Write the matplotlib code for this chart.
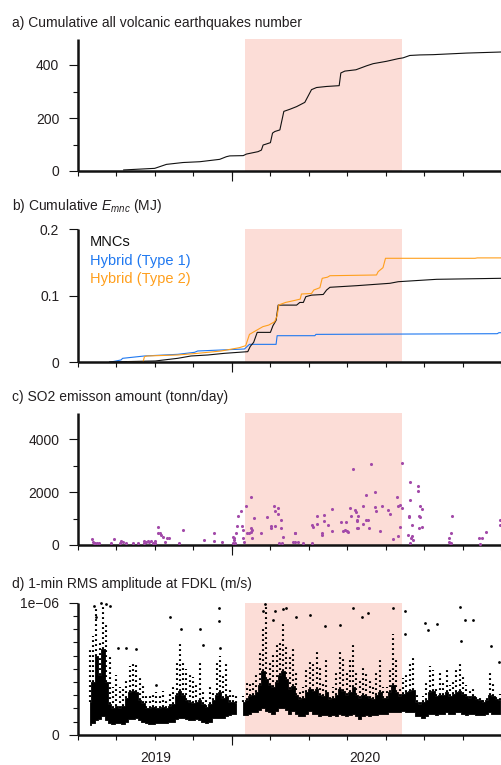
import numpy as np
import matplotlib
matplotlib.use("Agg")
import matplotlib.pyplot as plt

plt.rcParams['font.family'] = ['Liberation Sans', 'DejaVu Sans']
plt.rcParams['mathtext.fontset'] = 'custom'
plt.rcParams['mathtext.it'] = 'Liberation Sans:italic'
plt.rcParams['mathtext.rm'] = 'Liberation Sans'

# ---------------- data (time in decimal years) ----------------
x_start, x_end = 2018.630, 2020.648
long_tick = 2019.365
shade_start, shade_end = 2019.426, 2020.174
year_ticks = [2019.0, 2020.0]
year_labels = ["2019", "2020"]

titles = ["a) Cumulative all volcanic earthquakes number",
          "b) Cumulative $E_{mnc}$ (MJ)",
          "c) SO2 emisson amount (tonn/day)",
          "d) 1-min RMS amplitude at FDKL (m/s)"]

# a) cumulative earthquake number
eq_year = [2018.848, 2018.996, 2019.052, 2019.131, 2019.211, 2019.306, 2019.338, 2019.354,
           2019.418, 2019.434, 2019.489, 2019.505, 2019.513, 2019.529, 2019.548, 2019.558,
           2019.569, 2019.593, 2019.612, 2019.641, 2019.673, 2019.712, 2019.744, 2019.768,
           2019.816, 2019.876, 2019.884, 2019.903, 2019.956, 2020.007, 2020.038, 2020.102,
           2020.158, 2020.181, 2020.213, 2020.261, 2020.324, 2020.484, 2020.648]
eq_count = [4, 10, 25, 32, 35, 44, 54, 57,
            58, 64, 73, 79, 98, 102, 107, 143,
            149, 155, 225, 233, 243, 259, 307, 315,
            319, 322, 370, 377, 382, 397, 405, 414,
            424, 427, 436, 438, 439, 445, 449]

# b) cumulative energy (MJ)
mnc_year = [2018.781, 2018.999, 2019.106, 2019.169, 2019.250, 2019.329, 2019.440, 2019.452,
            2019.468, 2019.485, 2019.548, 2019.560, 2019.575, 2019.585, 2019.673, 2019.688,
            2019.705, 2019.717, 2019.744, 2019.800, 2019.816, 2019.832, 2019.959, 2020.118,
            2020.158, 2020.341, 2020.648]
mnc_e = [0.0005, 0.002, 0.006, 0.0095, 0.011, 0.0135, 0.016, 0.024,
         0.030, 0.045, 0.045, 0.055, 0.063, 0.086, 0.086, 0.090,
         0.090, 0.0987, 0.101, 0.102, 0.1087, 0.1128, 0.1152, 0.1188,
         0.1212, 0.1248, 0.1263]
t1_year = [2018.780, 2018.835, 2018.843, 2018.947, 2019.106, 2019.186, 2019.201, 2019.313,
           2019.424, 2019.448, 2019.575, 2019.580, 2019.760, 2019.765, 2020.630, 2020.638,
           2020.648]
t1_e = [0.0, 0.0035, 0.006, 0.0095, 0.012, 0.015, 0.017, 0.0185,
        0.020, 0.027, 0.027, 0.040, 0.040, 0.042, 0.043, 0.0445,
        0.0445]
t2_year = [2018.867, 2018.940, 2018.947, 2018.960, 2019.106, 2019.201, 2019.313, 2019.400,
           2019.430, 2019.448, 2019.470, 2019.512, 2019.540, 2019.568, 2019.580, 2019.588,
           2019.620, 2019.663, 2019.690, 2019.696, 2019.744, 2019.755, 2019.784, 2019.795,
           2019.820, 2019.832, 2020.054, 2020.062, 2020.085, 2020.097, 2020.524, 2020.535,
           2020.648]
t2_e = [0.0, 0.0, 0.0085, 0.0095, 0.011, 0.0135, 0.017, 0.022,
        0.025, 0.042, 0.046, 0.0536, 0.056, 0.061, 0.070, 0.0862,
        0.090, 0.093, 0.095, 0.1027, 0.1035, 0.1087, 0.1122, 0.1263,
        0.128, 0.1302, 0.1313, 0.1363, 0.1423, 0.1564, 0.1564, 0.157,
        0.157]
series_names = ["MNCs", "Hybrid (Type 1)", "Hybrid (Type 2)"]

# c) SO2 emission (ton/day)
so2_year = [2018.696, 2018.700, 2018.705, 2018.713, 2018.721, 2018.729, 2018.788, 2018.804,
            2018.828, 2018.836, 2018.844, 2018.859, 2018.891, 2018.915, 2018.944, 2018.947,
            2018.955, 2018.963, 2018.971, 2018.979, 2018.987, 2018.995, 2018.998, 2019.014,
            2019.011, 2019.019, 2019.027, 2019.035, 2019.046, 2019.055, 2019.066, 2019.114,
            2019.130, 2019.230, 2019.281, 2019.281, 2019.318, 2019.369, 2019.374, 2019.376,
            2019.369, 2019.378, 2019.384, 2019.389, 2019.392, 2019.408, 2019.413, 2019.416,
            2019.419, 2019.424, 2019.431, 2019.437, 2019.445, 2019.453, 2019.453, 2019.461,
            2019.461, 2019.456, 2019.472, 2019.504, 2019.533, 2019.549, 2019.552, 2019.565,
            2019.568, 2019.583, 2019.583, 2019.571, 2019.599, 2019.599, 2019.607, 2019.587,
            2019.603, 2019.663, 2019.663,
            2019.665, 2019.657, 2019.681, 2019.705, 2019.744, 2019.745, 2019.749,
            2019.768, 2019.768, 2019.792, 2019.792, 2019.805, 2019.805, 2019.824, 2019.841,
            2019.841, 2019.887, 2019.895, 2019.903, 2019.911, 2019.919, 2019.908, 2019.930,
            2019.932, 2019.943, 2019.951, 2019.954, 2019.959, 2019.963, 2019.967, 2019.966,
            2019.961, 2019.990, 2019.990, 2020.003, 2020.003, 2020.014, 2020.017, 2020.030,
            2020.047, 2020.047, 2020.051, 2020.071, 2020.078, 2020.110, 2020.118, 2020.131,
            2020.153, 2020.157, 2020.165, 2020.159, 2020.165, 2020.174, 2020.174, 2020.202,
            2020.207, 2020.211, 2020.213, 2020.213, 2020.216, 2020.221, 2020.224, 2020.227,
            2020.224, 2020.250, 2020.250, 2020.258, 2020.261, 2020.258, 2020.261, 2020.269,
            2020.269, 2020.401, 2020.401, 2020.405, 2020.408, 2020.408, 2020.414, 2020.545,
            2020.556, 2020.548, 2020.576, 2020.643, 2020.643]
so2_val = [216, 127, 60, 90, 60, 90, 63, 216,
           90, 150, 127, 63, 63, 63, 150, 90,
           127, 150, 127, 150, 90, 150, 63, 673,
           470, 444, 380, 317, 127, 254, 254, 63,
           571, 190, 444, 152, 127, 317, 254, 190,
           90, 90, 444, 724, 1105, 1270, 724, 571,
           254, 127, 1460, 444, 444, 508, 635, 571,
           254, 1816, 1016, 444, 1054, 724, 635, 1460,
           1300, 1400, 1181, 724, 927, 660, 317, 90,
           90, 444, 127,
           444, 127, 127, 63, 63, 762, 698,
           1079, 787, 470, 368, 1143, 889, 762, 1359,
           546, 876, 546, 571, 546, 495, 876, 1397,
           1105, 2883, 1333, 1232, 952, 889, 1079, 635,
           635, 1460, 775, 1892, 927, 952, 635, 3048,
           2006, 1422, 1270, 546, 1460, 1308, 1181, 216,
           1816, 1486, 1524, 343, 673, 3111, 1397, 381,
           1105, 1054, 2375, 1689, 89, 248, 343, 190,
           762, 2222, 2032, 1105, 1054, 635, 1460, 1359,
           673, 254, 127, 89, 63, 470, 1105, 254,
           280, 38, 495, 952, 762]

# d) 1-min RMS amplitude envelope per ~6-day column (units of 1e-7 m/s)
rms_year = [2018.686, 2018.702, 2018.718, 2018.734, 2018.750, 2018.765, 2018.781, 2018.797,
            2018.813, 2018.829, 2018.845, 2018.861, 2018.877, 2018.893, 2018.909, 2018.925,
            2018.940, 2018.956, 2018.972, 2018.988, 2019.004, 2019.020, 2019.036, 2019.052,
            2019.068, 2019.084, 2019.100, 2019.116, 2019.131, 2019.147, 2019.163, 2019.179,
            2019.195, 2019.211, 2019.227, 2019.243, 2019.259, 2019.275, 2019.291, 2019.306,
            2019.322, 2019.338, 2019.354, 2019.370, 2019.386,
            2019.418, 2019.434, 2019.449, 2019.465, 2019.481, 2019.497, 2019.513, 2019.529,
            2019.545, 2019.561, 2019.577, 2019.593, 2019.608, 2019.624, 2019.640, 2019.656,
            2019.672, 2019.688, 2019.704, 2019.720, 2019.736, 2019.752, 2019.768, 2019.784,
            2019.799, 2019.815, 2019.831, 2019.847, 2019.863, 2019.879, 2019.895, 2019.911,
            2019.927, 2019.943, 2019.958, 2019.974, 2019.990, 2020.006, 2020.022, 2020.038,
            2020.054, 2020.070, 2020.086, 2020.102, 2020.117, 2020.133, 2020.149, 2020.165,
            2020.181, 2020.197, 2020.213, 2020.229, 2020.245, 2020.261, 2020.276, 2020.292,
            2020.308, 2020.324, 2020.340, 2020.356, 2020.372, 2020.388, 2020.404, 2020.420,
            2020.435, 2020.451, 2020.467, 2020.483, 2020.499, 2020.515, 2020.531, 2020.547,
            2020.563, 2020.579, 2020.594, 2020.610, 2020.626, 2020.642]
rms_low = [0.7, 0.9, 1.1, 1.2, 1.4, 1.1, 0.9, 0.8,
           0.9, 0.9, 0.8, 1.0, 1.2, 1.2, 1.3, 1.1,
           1.0, 0.9, 0.8, 0.8, 0.9, 0.9, 0.9, 0.9,
           1.0, 1.0, 1.2, 1.3, 1.3, 1.2, 1.1, 1.1,
           1.2, 1.1, 1.0, 0.9, 1.0, 1.3, 1.3, 1.3,
           1.3, 1.4, 1.5, 1.6, 1.6,
           1.5, 1.5, 1.6, 1.7, 1.7, 1.9, 2.0, 1.8,
           1.7, 1.6, 1.8, 2.0, 2.0, 1.9, 1.6, 1.8,
           1.6, 1.4, 1.4, 1.6, 1.8, 1.6, 1.6, 1.4,
           1.5, 1.5, 1.4, 1.5, 1.4, 1.6, 1.5, 1.4,
           1.5, 1.6, 1.4, 1.2, 1.4, 1.5, 1.4, 1.5,
           1.5, 1.6, 1.6, 1.6, 1.7, 1.7, 1.7, 1.7,
           1.8, 1.7, 1.7, 1.7, 1.4, 1.4, 1.3, 1.4,
           1.6, 1.6, 1.5, 1.6, 1.6, 1.7, 1.6, 1.6,
           1.7, 1.7, 1.6, 1.5, 1.6, 1.6, 1.5, 1.5,
           1.5, 1.6, 1.7, 1.6, 1.6, 1.6]
rms_core = [2.5, 4.0, 6.0, 4.5, 6.5, 4.0, 2.3, 2.0,
            2.2, 2.0, 2.2, 2.8, 3.2, 3.3, 3.2, 2.6,
            2.4, 2.0, 2.0, 2.1, 2.0, 2.0, 2.1, 2.0,
            2.2, 2.3, 3.0, 3.3, 3.0, 2.6, 2.5, 2.4,
            2.5, 2.6, 2.3, 2.1, 2.3, 2.6, 3.0, 3.2,
            2.8, 2.9, 2.5, 2.5, 2.4,
            2.5, 2.6, 2.9, 3.0, 3.2, 3.8, 4.8, 4.2,
            3.8, 3.6, 4.0, 4.5, 4.8, 4.2, 3.5, 3.7,
            3.0, 2.7, 2.8, 3.2, 3.5, 3.3, 3.5, 3.0,
            2.9, 3.2, 2.7, 2.8, 3.0, 3.5, 3.3, 3.0,
            3.2, 3.6, 3.0, 2.8, 3.0, 2.9, 2.8, 2.7,
            3.0, 3.2, 2.8, 2.8, 3.2, 3.8, 3.2, 2.9,
            3.1, 3.2, 3.3, 3.4, 2.5, 2.3, 2.5, 2.6,
            3.2, 3.3, 2.9, 3.0, 3.0, 3.2, 2.9, 3.1,
            3.2, 3.3, 3.1, 2.9, 2.8, 2.9, 2.7, 2.6,
            2.5, 2.6, 3.0, 2.9, 2.7, 2.6]
rms_high = [6.4, 7.5, 9.5, 7.0, 9.9, 8.5, 6.0, 3.6,
            4.5, 3.6, 3.5, 4.2, 5.2, 5.6, 5.5, 4.3,
            3.8, 3.0, 3.0, 3.1, 3.2, 3.0, 3.3, 2.8,
            3.2, 3.6, 5.4, 6.9, 5.6, 5.0, 4.5, 4.4,
            4.0, 5.6, 3.4, 2.8, 3.6, 3.3, 5.6, 6.0,
            4.5, 5.6, 3.4, 3.1, 2.9,
            2.9, 4.0, 3.9, 4.1, 4.6, 6.2, 8.2, 9.9,
            5.5, 6.2, 7.0, 7.2, 8.4, 6.9, 5.9, 6.6,
            4.7, 3.2, 3.6, 4.9, 5.7, 5.4, 6.3, 5.1,
            3.9, 5.7, 3.1, 3.6, 4.9, 6.4, 5.7, 4.7,
            5.7, 6.9, 4.9, 4.1, 5.2, 4.6, 4.1, 3.6,
            4.9, 5.7, 3.6, 3.6, 4.9, 7.6, 5.7, 3.5,
            4.3, 4.6, 5.6, 5.9, 3.0, 2.7, 2.9, 3.9,
            5.2, 4.9, 3.6, 4.7, 3.9, 5.0, 3.8, 4.1,
            4.9, 5.6, 4.5, 3.8, 3.4, 3.7, 3.1, 2.9,
            2.7, 3.0, 4.7, 3.9, 3.1, 3.1]
spike_year = [2018.707, 2018.714, 2018.742, 2018.762, 2018.781, 2018.821, 2018.858, 2018.905,
              2019.004, 2019.068, 2019.119, 2019.211, 2019.224, 2019.303, 2019.303, 2019.306,
              2019.521, 2019.513, 2019.561, 2019.569, 2019.606, 2019.621, 2019.672, 2019.736,
              2019.808, 2019.879, 2019.943, 2019.983, 2020.014, 2020.133, 2020.190, 2020.190,
              2020.285, 2020.301, 2020.341, 2020.452, 2020.457, 2020.476, 2020.516, 2020.600,
              2020.638]
spike_val = [9.75, 8.9, 9.95, 9.9, 9.75, 6.6, 6.6, 6.5,
             3.8, 8.9, 8.0, 8.0, 6.8, 9.6, 8.6, 6.6,
             9.9, 9.4, 8.7, 9.4, 9.5, 9.6, 8.9, 9.1,
             8.2, 8.3, 9.6, 8.9, 9.2, 9.6, 9.4, 7.6,
             8.5, 7.9, 8.4, 9.7, 7.1, 8.7, 8.7, 6.7,
             5.5]
rms_unit = 1e-7
rms_gap_after = 2019.386   # no data between this and the next column

# ---------------- figure ----------------
W, H = 501, 765
fig = plt.figure(figsize=(W / 100, H / 100), dpi=100)
TXT = '#231f20'
SHADE = '#fcddd7'


def make_axes(top, bottom):
    return fig.add_axes([78 / W, 1 - bottom / H, (W - 78) / W, (bottom - top) / H])


def style(ax):
    for s in ['top', 'right']:
        ax.spines[s].set_visible(False)
    for s in ['left', 'bottom']:
        ax.spines[s].set_linewidth(1.8)
        ax.spines[s].set_color('#111111')
        ax.spines[s].set_capstyle('butt')
    ax.set_xlim(x_start, x_end)
    ax.axvspan(shade_start, shade_end, color=SHADE, lw=0, zorder=0)
    ax.set_xticks([long_tick])
    ax.set_xticklabels([''])
    ax.set_xticks(np.linspace(x_start, x_end, 12), minor=True)
    ax.tick_params(axis='x', which='major', length=7, width=0.8, color='#111111')
    ax.tick_params(axis='x', which='minor', length=3.6, width=0.8, color='#111111')
    ax.tick_params(axis='y', which='major', length=6.5, width=0.8, pad=7,
                   labelsize=10, labelcolor=TXT, color='#111111')
    ax.tick_params(axis='y', which='minor', length=3.6, width=0.8, color='#111111')


panel_box = [(38.5, 171), (229.3, 362.3), (412.7, 545), (602.7, 734.7)]
title_y = [22.5, 206, 397, 584]
axes = [make_axes(t, b) for t, b in panel_box]
for ax, ty, tt in zip(axes, title_y, titles):
    style(ax)
    fig.text(12 / W, 1 - ty / H, tt, fontsize=10, color=TXT, va='center', ha='left')

# a)
ax = axes[0]
ax.plot(eq_year, eq_count, color='#111111', lw=0.8)
ax.set_ylim(0, 500)
ax.set_yticks([0, 200, 400])
ax.set_yticks([100, 300], minor=True)

# b)
ax = axes[1]
cols = ['#111111', '#1f78f0', '#ff9f1c']
ax.plot(t1_year, t1_e, color=cols[1], lw=0.8)
ax.plot(mnc_year, mnc_e, color=cols[0], lw=0.8)
ax.plot(t2_year, t2_e, color=cols[2], lw=0.8)
ax.set_ylim(0, 0.2)
ax.set_yticks([0, 0.1, 0.2])
ax.set_yticklabels(['0', '0.1', '0.2'])
for name, c, fy in zip(series_names, cols, [0.907, 0.764, 0.626]):
    ax.text(0.028, fy, name, transform=ax.transAxes, color=c, fontsize=10.5,
            va='center', ha='left')

# c)
ax = axes[2]
ax.scatter(so2_year, so2_val, s=5, color='#a24aa9', lw=0, zorder=3)
ax.set_ylim(0, 5000)
ax.set_yticks([0, 2000, 4000])
ax.set_yticks([1000, 3000], minor=True)

# d)
ax = axes[3]
ry = np.array(rms_year)
lo = np.array(rms_low) * rms_unit
co = np.array(rms_core) * rms_unit
hi = np.array(rms_high) * rms_unit
for seg in [ry <= rms_gap_after, ry > rms_gap_after]:
    ax.fill_between(ry[seg], lo[seg], co[seg], step='mid', color='black', lw=0.6,
                    edgecolor='black', zorder=3)
ax.vlines(ry, co, hi, color='black', lw=1.5, linestyles=(0, (0.9, 1.5)), zorder=3)
ax.scatter(spike_year, np.array(spike_val) * rms_unit, s=4, color='black', lw=0, zorder=3,
           clip_on=False)
ax.set_ylim(0, 1e-6)
ax.set_yticks([0, 1e-6])
ax.set_yticklabels(['0', '1e\u221206'])
ax.set_yticks(np.arange(1, 10) * 1e-7, minor=True)
trans = ax.get_xaxis_transform()
for yt, yl in zip(year_ticks, year_labels):
    ax.text(yt, -0.176, yl, transform=trans, ha='center', va='center',
            fontsize=10, color=TXT)

fig.savefig('out.png', dpi=100)
